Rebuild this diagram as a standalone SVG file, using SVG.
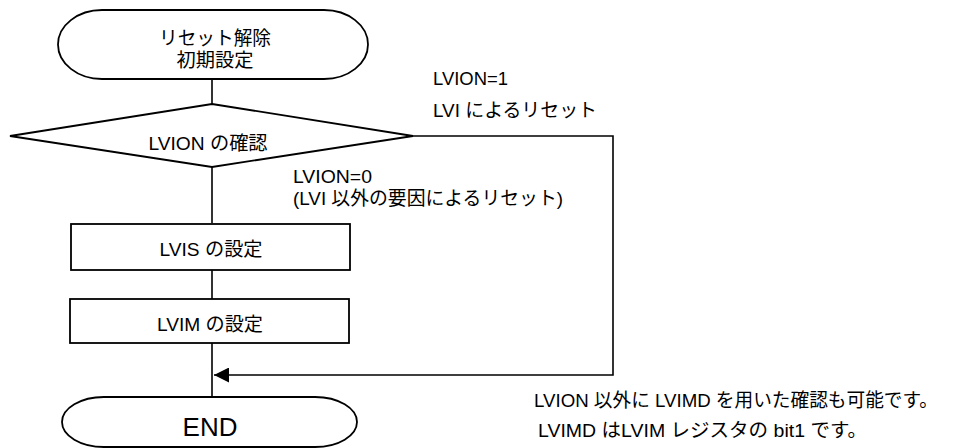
<svg xmlns="http://www.w3.org/2000/svg" width="953" height="448" viewBox="0 0 953 448">
<defs>
<style>
.s{fill:#fff;stroke:#000;stroke-width:1.8}
.c{fill:none;stroke:#000;stroke-width:1.6}
text{font-family:"Liberation Sans","Noto Sans CJK JP",sans-serif;font-size:19px;fill:#000}
.m{text-anchor:middle}
</style>
<marker id="ah" markerWidth="15" markerHeight="15" refX="15" refY="7.5" orient="auto" markerUnits="userSpaceOnUse">
<path d="M0,0 L15,7.5 L0,15 Z" fill="#000"/>
</marker>
</defs>
<rect width="953" height="448" fill="#fff"/>
<g id="connectors">
<line class="c" x1="212" y1="79" x2="212" y2="104"/>
<line class="c" x1="212" y1="167" x2="212" y2="223"/>
<line class="c" x1="212" y1="270" x2="212" y2="299"/>
<line class="c" x1="212" y1="343" x2="212" y2="397"/>
<path class="c" d="M413,136 H613 V375 H214" marker-end="url(#ah)"/>
</g>
<g id="start">
<rect class="s" x="58" y="10" width="310" height="69" rx="44" ry="34.5"/>
<text class="m" x="215" y="45" textLength="112" lengthAdjust="spacingAndGlyphs">リセット解除</text>
<text class="m" x="215" y="67" textLength="77" lengthAdjust="spacingAndGlyphs">初期設定</text>
</g>
<g id="decision">
<polygon class="s" points="212,104 413,136 212,167 10,136"/>
<text class="m" x="208" y="150" textLength="119" lengthAdjust="spacingAndGlyphs">LVION の確認</text>
</g>
<g id="lvis">
<rect class="s" x="71" y="224" width="279" height="46"/>
<text class="m" x="211" y="256" textLength="103" lengthAdjust="spacingAndGlyphs">LVIS の設定</text>
</g>
<g id="lvim">
<rect class="s" x="70" y="299" width="279" height="44"/>
<text class="m" x="210" y="331" textLength="106" lengthAdjust="spacingAndGlyphs">LVIM の設定</text>
</g>
<g id="end">
<rect class="s" x="62" y="397" width="295" height="50" rx="42" ry="25"/>
<text class="m" x="210" y="436" style="font-size:26px">END</text>
</g>
<g id="labels">
<text x="433" y="85" textLength="75" lengthAdjust="spacingAndGlyphs">LVION=1</text>
<text x="433" y="117" textLength="164" lengthAdjust="spacingAndGlyphs">LVI によるリセット</text>
<text x="293" y="183" textLength="79" lengthAdjust="spacingAndGlyphs">LVION=0</text>
<text x="293" y="205" textLength="270" lengthAdjust="spacingAndGlyphs">(LVI 以外の要因によるリセット)</text>
<text x="534" y="407" textLength="404" lengthAdjust="spacingAndGlyphs">LVION 以外に LVIMD を用いた確認も可能です。</text>
<text x="538" y="437" textLength="329" lengthAdjust="spacingAndGlyphs">LVIMD はLVIM レジスタの bit1 です。</text>
</g>
</svg>
